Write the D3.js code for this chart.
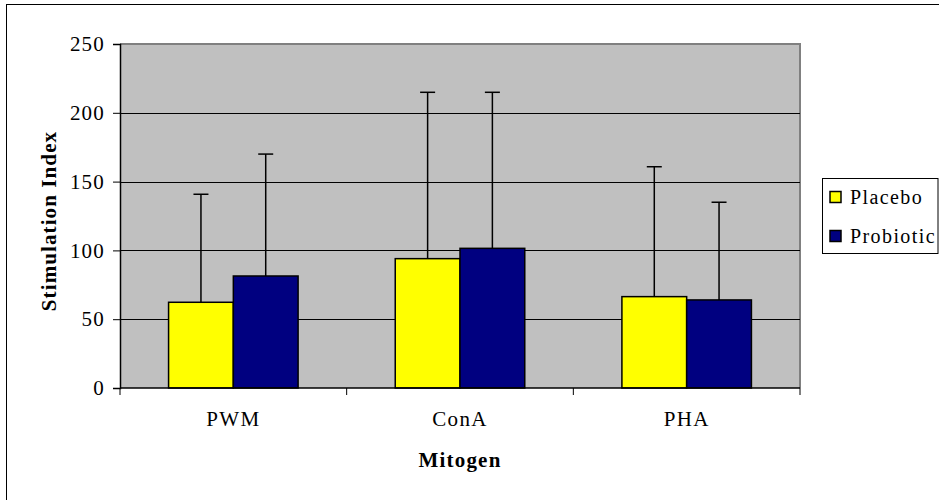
<!DOCTYPE html>
<html>
<head>
<meta charset="utf-8">
<script src="https://cdn.jsdelivr.net/npm/d3@7"></script>
<style>
  html, body { margin: 0; padding: 0; background: #fff; }
  svg { display: block; }
  svg text { font-family: "Liberation Serif", "Times New Roman", Times, serif !important; fill: #000; }
</style>
</head>
<body>
<svg id="chart" width="939" height="500"></svg>
<script>
const categories = ["PWM", "ConA", "PHA"];
const seriesNames = ["Placebo", "Probiotic"];
const placeboValues = [62.3, 94.0, 66.4];
const probioticValues = [81.4, 101.5, 64.0];
const placeboErrors = [78.5, 120.9, 94.4];
const probioticErrors = [88.6, 113.4, 71.0];
const yTicks = [0, 50, 100, 150, 200, 250];
const colors = ["#FFFF00", "#000080"];

const FONT = "Liberation Serif";
const svg = d3.select("#chart");
const plotLeft = 120, plotRight = 800, plotTop = 44, plotBottom = 388;

// outer border
svg.append("rect").attr("x", 6.5).attr("y", 4.5).attr("width", 940).attr("height", 500)
  .attr("fill", "none").attr("stroke", "#000").attr("stroke-width", 1);

const x0 = d3.scaleBand().domain(categories).range([plotLeft, plotRight]).paddingInner(0).paddingOuter(0);
const x1 = d3.scaleBand().domain(seriesNames).range([0, x0.bandwidth()]).paddingInner(0).paddingOuter(0.75);
const y = d3.scaleLinear().domain([0, 250]).range([plotBottom, plotTop]);

// plot area
svg.append("rect").attr("x", plotLeft).attr("y", plotTop).attr("width", plotRight - plotLeft).attr("height", plotBottom - plotTop)
  .attr("fill", "#C0C0C0");
svg.append("path").attr("d", `M${plotLeft},${plotTop}H${plotRight}V${plotBottom}`)
  .attr("fill", "none").attr("stroke", "#808080").attr("stroke-width", 2);

// gridlines
svg.append("g").selectAll("line").data(yTicks.filter(d => d > 0 && d < 250)).join("line")
  .attr("x1", plotLeft).attr("x2", plotRight)
  .attr("y1", d => Math.round(y(d)) + 0.5).attr("y2", d => Math.round(y(d)) + 0.5)
  .attr("stroke", "#000").attr("stroke-width", 1);

const data = categories.map((c, i) => ({
  cat: c,
  vals: [
    {s: "Placebo", v: placeboValues[i], e: placeboErrors[i], c: colors[0]},
    {s: "Probiotic", v: probioticValues[i], e: probioticErrors[i], c: colors[1]}
  ]
}));

const groups = svg.append("g").selectAll("g").data(data).join("g")
  .attr("transform", d => `translate(${x0(d.cat)},0)`);

groups.each(function(d) {
  const g = d3.select(this);
  d.vals.forEach(v => {
    const cx = x1(v.s) + x1.bandwidth() / 2;
    g.append("line").attr("x1", cx).attr("x2", cx).attr("y1", y(v.v)).attr("y2", y(v.v + v.e))
      .attr("stroke", "#000").attr("stroke-width", 1.5);
    g.append("line").attr("x1", cx - 7.5).attr("x2", cx + 7.5).attr("y1", y(v.v + v.e)).attr("y2", y(v.v + v.e))
      .attr("stroke", "#000").attr("stroke-width", 1.5);
  });
});

groups.selectAll("rect").data(d => d.vals).join("rect")
  .attr("x", d => x1(d.s))
  .attr("width", x1.bandwidth())
  .attr("y", d => y(d.v))
  .attr("height", d => y(0) - y(d.v))
  .attr("fill", d => d.c)
  .attr("stroke", "#000").attr("stroke-width", 1.5);

// y axis
const yAxis = svg.append("g").attr("transform", `translate(${plotLeft},0)`)
  .call(d3.axisLeft(y).tickValues(yTicks).tickSize(7).tickPadding(8));
yAxis.attr("font-family", FONT);
yAxis.select(".domain").attr("stroke", "#000").attr("stroke-width", 1.5);
yAxis.selectAll(".tick line").attr("stroke", "#000");
yAxis.selectAll(".tick text").attr("font-size", 21).attr("font-family", FONT)
  .attr("letter-spacing", "1.2px");

// x axis
const xAxis = svg.append("g").attr("transform", `translate(0,${plotBottom})`);
xAxis.append("line").attr("x1", plotLeft).attr("x2", plotRight).attr("y1", 0).attr("y2", 0)
  .attr("stroke", "#000").attr("stroke-width", 1.5);
const bounds = categories.map(c => x0(c)).concat([plotRight]);
xAxis.selectAll("line.tk").data(bounds).join("line").attr("class", "tk")
  .attr("x1", d => d).attr("x2", d => d).attr("y1", 0).attr("y2", 7)
  .attr("stroke", "#000").attr("stroke-width", 1);
xAxis.selectAll("text").data(categories).join("text")
  .attr("x", d => x0(d) + x0.bandwidth() / 2).attr("y", 38)
  .attr("text-anchor", "middle").attr("font-size", 21).attr("font-family", FONT).attr("letter-spacing", "1.3px")
  .text(d => d);

// axis titles
svg.append("text").attr("x", plotLeft + (plotRight - plotLeft) / 2).attr("y", 467)
  .attr("text-anchor", "middle").attr("font-size", 21).attr("font-weight", "bold").attr("font-family", FONT)
  .attr("letter-spacing", "1.2px").text("Mitogen");
svg.append("text").attr("transform", `translate(56,${(plotTop + plotBottom) / 2 + 5}) rotate(-90)`)
  .attr("text-anchor", "middle").attr("font-size", 21).attr("font-weight", "bold").attr("font-family", FONT)
  .attr("letter-spacing", "1.1px").text("Stimulation Index");

// legend
const lg = svg.append("g");
lg.append("rect").attr("x", 822.5).attr("y", 178.5).attr("width", 115.5).attr("height", 75)
  .attr("fill", "#fff").attr("stroke", "#000").attr("stroke-width", 1);
const items = lg.selectAll("g").data(seriesNames).join("g")
  .attr("transform", (d, i) => `translate(830,${191.5 + i * 39})`);
items.append("rect").attr("width", 11).attr("height", 11)
  .attr("fill", (d, i) => colors[i]).attr("stroke", "#000").attr("stroke-width", 1.5);
items.append("text").attr("x", 20).attr("y", 12.5).attr("font-size", 20).attr("font-family", FONT)
  .attr("letter-spacing", "1.4px").text(d => d);
</script>
</body>
</html>
